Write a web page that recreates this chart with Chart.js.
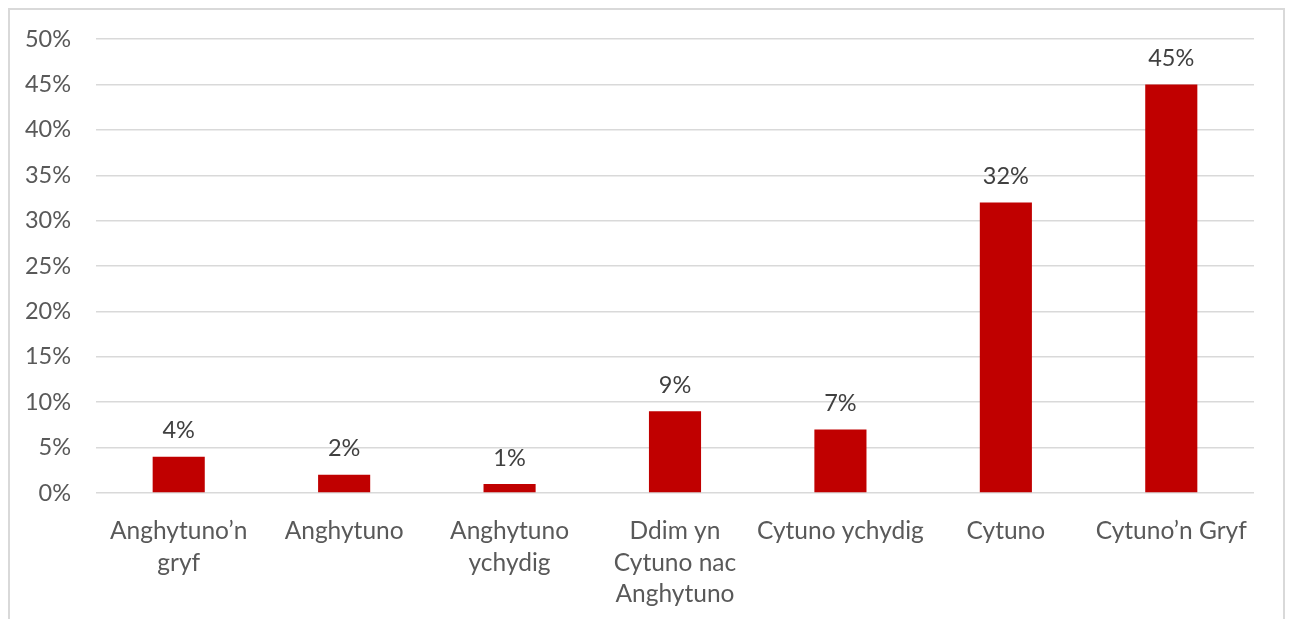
<!DOCTYPE html>
<html>
<head>
<meta charset="utf-8">
<script src="https://cdn.jsdelivr.net/npm/chart.js@4.4.1/dist/chart.umd.min.js"></script>
<style>
  html, body { margin: 0; padding: 0; background: #fff; }
  #wrap { position: relative; width: 1290px; height: 619px; overflow: hidden; }
  #frame { position: absolute; left: 8px; top: 8px; width: 1273px; height: 640px;
           border: 2px solid #d9d9d9; pointer-events: none; }
</style>
</head>
<body>
<div id="wrap">
  <canvas id="chart" width="1290" height="619"></canvas>
  <div id="frame"></div>
</div>
<script>
// data
const categories = [
    ['Anghytuno\u2019n', 'gryf'],
    'Anghytuno',
    ['Anghytuno', 'ychydig'],
    ['Ddim yn', 'Cytuno nac', 'Anghytuno'],
    'Cytuno ychydig',
    'Cytuno',
    'Cytuno\u2019n Gryf'
];
const values = [4, 2, 1, 9, 7, 32, 45];
const yTicks = [0, 5, 10, 15, 20, 25, 30, 35, 40, 45, 50];

const FONT = 'Lato, "Open Sans", sans-serif';

// labels above each bar
const valueLabels = {
    id: 'valueLabels',
    afterDatasetsDraw(chart) {
        const ctx = chart.ctx;
        const meta = chart.getDatasetMeta(0);
        ctx.save();
        ctx.font = '23.5px ' + FONT;
        ctx.fillStyle = '#404040';
        ctx.textAlign = 'center';
        ctx.textBaseline = 'middle';
        meta.data.forEach((bar, i) => {
            ctx.fillText(values[i] + '%', bar.x, bar.y - 26);
        });
        ctx.restore();
    }
};

new Chart(document.getElementById('chart'), {
    type: 'bar',
    data: {
        labels: categories,
        datasets: [{
            data: values,
            backgroundColor: '#c00000',
            categoryPercentage: 1,
            barPercentage: 0.315
        }]
    },
    options: {
        responsive: false,
        animation: false,
        layout: { padding: { left: 0, right: 36, top: 37, bottom: 0 } },
        plugins: {
            legend: { display: false },
            tooltip: { enabled: false }
        },
        scales: {
            x: {
                grid: { display: false },
                border: { display: false },
                ticks: {
                    color: '#595959',
                    font: { family: FONT, size: 24.5, lineHeight: 1.27 },
                    padding: 15,
                    maxRotation: 0,
                    autoSkip: false
                },
                afterFit(scale) { scale.height = 126; }
            },
            y: {
                min: 0,
                max: 50,
                afterBuildTicks(scale) {
                    scale.ticks = yTicks.map(v => ({ value: v }));
                },
                grid: { color: '#d9d9d9', lineWidth: 1.5, drawTicks: false },
                border: { display: false },
                ticks: {
                    color: '#595959',
                    font: { family: FONT, size: 23.5 },
                    padding: 25,
                    callback: v => v + '%'
                },
                afterFit(scale) { scale.width = 96; }
            }
        }
    },
    plugins: [valueLabels]
});
</script>
</body>
</html>
